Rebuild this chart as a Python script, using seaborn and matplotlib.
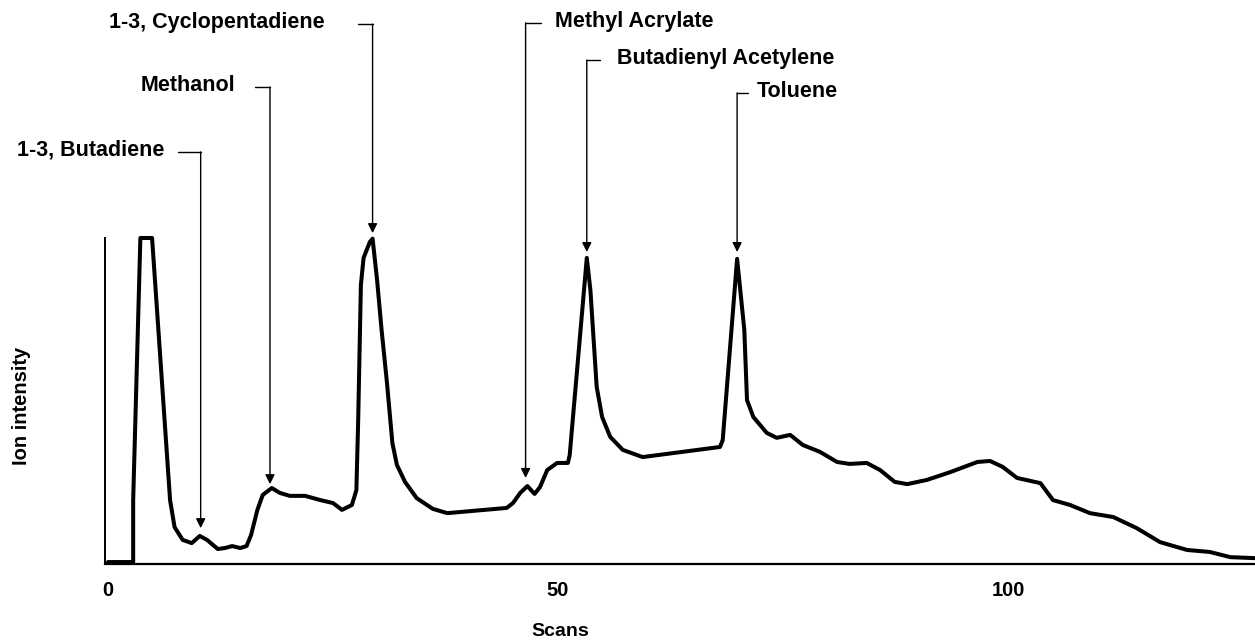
import numpy as np
import pandas as pd
import seaborn as sns
import matplotlib.pyplot as plt

# trace (scan number, relative ion intensity)
scans = [0.0, 2.8, 2.8, 3.6, 4.9, 6.9, 7.4, 8.3, 9.3, 10.2, 11.0, 12.2, 13.0, 13.8, 14.7,
         15.4, 15.9, 16.6, 17.2, 18.2, 19.1, 20.2, 21.9, 23.6, 25.0, 26.0, 27.1, 27.6,
         27.8, 28.1, 28.4, 29.1, 29.4, 29.9, 30.4, 31.0, 31.6, 32.1, 33.0, 34.3, 36.1,
         37.7, 44.3, 45.0, 45.8, 46.6, 47.0, 47.4, 48.0, 48.8, 49.9, 51.1, 51.3, 53.2,
         53.6, 54.3, 54.9, 55.8, 57.2, 59.4, 68.0, 68.3, 69.9, 70.7, 71.0, 71.7, 73.2,
         74.3, 75.8, 77.2, 79.1, 81.0, 82.4, 84.3, 85.8, 87.4, 88.8, 91.0, 93.6, 96.6,
         98.0, 99.4, 101.0, 103.6, 105.0, 106.9, 109.1, 111.7, 114.3, 116.9, 119.9,
         122.4, 124.7, 127.4]
intensity = [0.6, 0.6, 19.6, 100.0, 100.0, 19.6, 11.3, 7.4, 6.4, 8.6, 7.4, 4.6, 4.9, 5.5, 4.9,
             5.5, 8.9, 16.6, 21.2, 23.3, 21.8, 20.9, 20.9, 19.6, 18.7, 16.6, 18.1, 22.7,
             44.2, 85.6, 93.9, 98.8, 99.8, 87.1, 71.8, 55.5, 37.1, 30.4, 25.2, 20.2, 16.9,
             15.6, 17.2, 18.7, 21.8, 23.9, 22.7, 21.5, 23.6, 28.8, 31.0, 31.0, 33.4, 93.9,
             84.0, 54.3, 45.1, 39.0, 35.0, 32.8, 35.9, 38.0, 93.6, 71.8, 50.3, 45.1, 40.2,
             38.7, 39.6, 36.5, 34.4, 31.3, 30.7, 31.0, 28.8, 25.2, 24.5, 25.8, 28.2, 31.3,
             31.6, 29.8, 26.4, 24.8, 19.6, 18.1, 15.6, 14.4, 11.0, 6.7, 4.3,
             3.7, 2.1, 1.8]

# identified compounds and the scan of the peak they point at
compounds = ["1-3, Butadiene", "Methanol", "1-3, Cyclopentadiene",
             "Methyl Acrylate", "Butadienyl Acetylene", "Toluene"]
compound_scans = [10.3, 18.0, 29.4, 46.4, 53.2, 69.9]
arrow_tips = [11.0, 24.5, 101.5, 26.4, 95.7, 95.7]

tick_values = [0, 50, 100]

df = pd.DataFrame({"scan": scans, "intensity": intensity})

sns.set_style("white")
plt.rcParams["font.family"] = ["Liberation Sans", "DejaVu Sans"]
plt.rcParams["text.color"] = "black"
plt.rcParams["axes.labelcolor"] = "black"
plt.rcParams["xtick.color"] = "black"

fig = plt.figure(figsize=(12.55, 6.42), dpi=100)
ax = fig.add_axes([105 / 1255, 78 / 642, 1150 / 1255, 564 / 642])

sns.lineplot(data=df, x="scan", y="intensity", sort=False, estimator=None,
             color="black", lw=2.9, ax=ax)
for ln in ax.lines:
    ln.set_clip_on(False)
    ln.set_solid_joinstyle("round")

ax.set_xlim(-0.33, 127.44)
ax.set_ylim(0, 173)

for side in ["top", "right"]:
    ax.spines[side].set_visible(False)
ax.spines["left"].set_bounds(0, 100)
ax.spines["left"].set_linewidth(1.4)
ax.spines["bottom"].set_linewidth(1.6)
ax.spines["left"].set_color("black")
ax.spines["bottom"].set_color("black")

ax.set_yticks([])
ax.set_xticks(tick_values)
ax.set_xticklabels([str(t) for t in tick_values], fontsize=14.5, fontweight="bold")
ax.set_xticks(np.arange(10, 130, 10), minor=True)
ax.tick_params(axis="x", which="major", direction="in", length=5, width=1.2, pad=12, color="black")
ax.tick_params(axis="x", which="minor", direction="in", length=3.5, width=1.0, color="black")

ax.set_xlabel("Scans", fontsize=14, fontweight="bold")
ax.xaxis.set_label_coords(0.396, -0.105)
ax.set_ylabel("Ion intensity", fontsize=14.5, fontweight="bold")
ax.yaxis.set_label_coords(-0.064, 0.28)

# label layout: bracket height, stub end and text anchor for each compound
bracket_y = [126.4, 146.3, 165.6, 166.0, 154.6, 144.5]
stub_end = [7.8, 16.3, 27.8, 48.1, 54.7, 71.1]
text_x = [6.3, 14.1, 24.1, 49.7, 56.6, 72.1]

for name, xs, tip, by, se, tx in zip(compounds, compound_scans, arrow_tips,
                                      bracket_y, stub_end, text_x):
    ax.plot([se, xs], [by, by], color="black", lw=1.0)
    ax.annotate("", xy=(xs, tip), xytext=(xs, by),
                arrowprops=dict(arrowstyle="-|>", color="black", lw=1.0,
                                mutation_scale=14, shrinkA=0, shrinkB=0))
    ha = "right" if tx < xs else "left"
    ax.text(tx, by + 0.5, name, ha=ha, va="center", fontsize=15.5, fontweight="bold")

fig.savefig("out.png", dpi=100)
